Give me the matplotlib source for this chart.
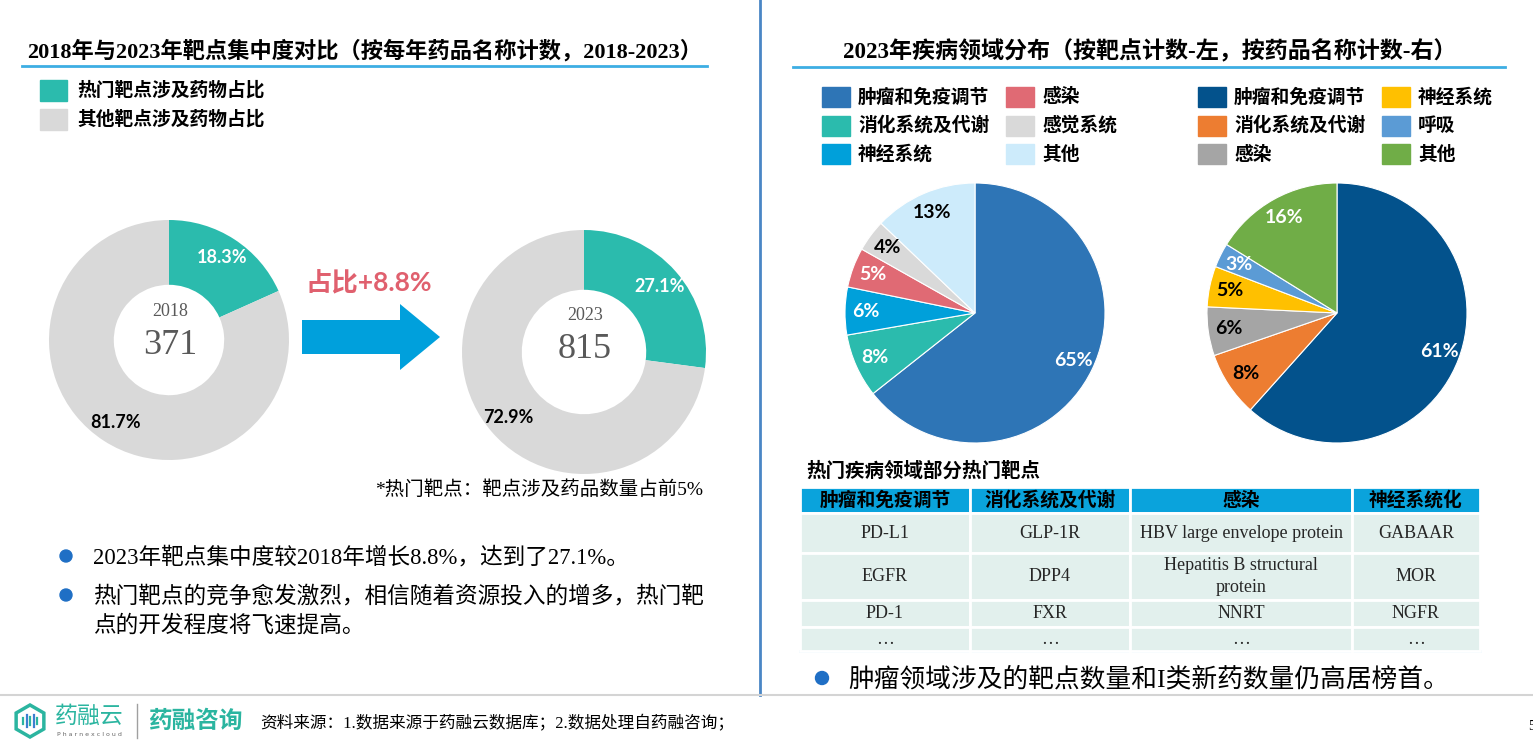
import matplotlib
matplotlib.use('Agg')
import matplotlib.pyplot as plt
from matplotlib.patches import Rectangle, FancyArrow, RegularPolygon, Circle

W, H = 1533, 742

# ---- data ----
years = ['2018', '2023']
drug_totals = [371, 815]
hot_share = [18.3, 27.1]
other_share = [81.7, 72.9]
share_gain = '占比+8.8%'
share_labels = ['热门靶点涉及药物占比', '其他靶点涉及药物占比']

target_areas = ['肿瘤和免疫调节', '消化系统及代谢', '神经系统', '感染', '感觉系统', '其他']
target_pct = [65, 8, 6, 5, 4, 13]
drug_areas = ['肿瘤和免疫调节', '消化系统及代谢', '感染', '神经系统', '呼吸', '其他']
drug_pct = [61, 8, 6, 5, 3, 16]

table_header = ['肿瘤和免疫调节', '消化系统及代谢', '感染', '神经系统化']
table_rows = [
    ['PD-L1', 'GLP-1R', 'HBV large envelope protein', 'GABAAR'],
    ['EGFR', 'DPP4', 'Hepatitis B structural\nprotein', 'MOR'],
    ['PD-1', 'FXR', 'NNRT', 'NGFR'],
    ['…', '…', '…', '…'],
]

left_notes = ['2023年靶点集中度较2018年增长8.8%，达到了27.1%。',
              '热门靶点的竞争愈发激烈，相信随着资源投入的增多，热门靶\n点的开发程度将飞速提高。']
right_note = '肿瘤领域涉及的靶点数量和I类新药数量仍高居榜首。'

# ---- style ----
TEAL = '#2BBBAD'
GREY = '#D9D9D9'
target_colors = ['#2E75B6', '#2BBBAD', '#00A0DA', '#E06A74', '#D9D9D9', '#CDEBFB']
target_txt = ['white', 'white', 'white', 'white', 'black', 'black']
drug_colors = ['#03528C', '#ED7D31', '#A5A5A5', '#FFC000', '#5B9BD5', '#70AD47']
drug_txt = ['white', 'black', 'black', 'black', 'white', 'white']

SERIF = ['Liberation Serif', 'Noto Sans CJK SC']
SANS = ['Noto Sans CJK SC', 'DejaVu Sans']
NUM = ['Lato', 'DejaVu Sans']

fig = plt.figure(figsize=(W / 100, H / 100), dpi=100, facecolor='white')


def px_axes(x0, y0, w, h):
    return fig.add_axes([x0 / W, 1 - (y0 + h) / H, w / W, h / H])


base = px_axes(0, 0, W, H)
base.set_xlim(0, W)
base.set_ylim(H, 0)
base.axis('off')

# frame lines
base.plot([760, 760], [0, 695], color='#4A86C5', lw=2)
base.plot([0, W], [695, 695], color='#D4D4D4', lw=1.5)
base.plot([22, 707], [66, 66], color='#3DAEE3', lw=2)
base.plot([793, 1505], [67, 67], color='#3DAEE3', lw=2)

# titles
base.text(365, 51, '2018年与2023年靶点集中度对比（按每年药品名称计数，2018-2023）',
          ha='center', va='center', fontsize=16, fontweight='bold', family=SERIF)
base.text(1150, 52, '2023年疾病领域分布（按靶点计数-左，按药品名称计数-右）',
          ha='center', va='center', fontsize=16.6, fontweight='bold', family=SERIF)

# left legend
for i, (lab, col) in enumerate(zip(share_labels, [TEAL, GREY])):
    y = 90 + i * 29
    base.add_patch(Rectangle((40, y - 10), 27, 21, color=col))
    base.text(77, y, lab, va='center', fontsize=13.5, fontweight='bold', family=SANS)

# donuts
donut_boxes = [(49, 220, 240, 240), (462, 230, 244, 244)]
donut_widths = [0.54, 0.49]
center_year_y = [311, 315]
center_total_y = [346, 350]
for k in range(2):
    ax = px_axes(*donut_boxes[k])
    w, t, at = ax.pie([hot_share[k], other_share[k]], colors=[TEAL, GREY],
                      startangle=90, counterclock=False,
                      wedgeprops=dict(width=donut_widths[k], edgecolor='none'),
                      autopct=lambda p: f'{p:.1f}%', pctdistance=0.82)
    for a, c in zip(at, ['white', 'black']):
        a.set_color(c)
        a.set_fontsize(13)
        a.set_fontweight('bold')
        a.set_family(NUM)
    ax.set_xlim(-1, 1)
    ax.set_ylim(-1, 1)
    ax.axis('off')
    bx, by, bw, bh = donut_boxes[k]
    cx = bx + bw / 2
    base.text(cx + 1, center_year_y[k], years[k], ha='center', va='center',
              fontsize=13, color='#595959', family=SERIF)
    base.text(cx + 1, center_total_y[k], str(drug_totals[k]), ha='center', va='center',
              fontsize=26, color='#595959', family=SERIF)

# arrow + gain text
base.add_patch(FancyArrow(302, 337, 138, 0, width=34, head_width=66, head_length=40,
                          length_includes_head=True, color='#00A0DC', lw=0))
base.text(369, 283, share_gain, ha='center', va='center', fontsize=19,
          fontweight='bold', color='#E0606E', family=['Lato', 'Noto Sans CJK SC'])

base.text(703, 490, '*热门靶点：靶点涉及药品数量占前5%', ha='right', va='center',
          fontsize=14, family=SERIF)

# left bullets
for y, txt in zip([556, 595], left_notes):
    base.add_patch(Circle((66, y), 6, color='#1F6FC5'))
    base.text(93, y - 9, txt, ha='left', va='top', fontsize=16.3, family=SERIF,
              linespacing=1.45)

# right legends
def legend_block(x0, cats, colors):
    for i, (lab, col) in enumerate(zip(cats, colors)):
        col_i, row_i = divmod(i, 3)
        x = x0 + col_i * 184
        y = 97 + row_i * 28.5
        base.add_patch(Rectangle((x, y - 10), 28, 20, color=col))
        base.text(x + 36, y, lab, va='center', fontsize=13.5, fontweight='bold', family=SANS)


legend_block(822, target_areas, target_colors)
legend_block(1198, drug_areas, drug_colors)

# pies
for box, vals, cols, tcols in [((845, 183, 260, 260), target_pct, target_colors, target_txt),
                               ((1207, 183, 260, 260), drug_pct, drug_colors, drug_txt)]:
    ax = px_axes(*box)
    tot = sum(vals)
    w, t, at = ax.pie(vals, colors=cols, startangle=90, counterclock=False,
                      wedgeprops=dict(edgecolor='white', linewidth=0.8),
                      autopct=lambda p, tot=tot: f'{p * tot / 100:.0f}%', pctdistance=0.84)
    for a, c in zip(at, tcols):
        a.set_color(c)
        a.set_fontsize(14)
        a.set_fontweight('bold')
        a.set_family(NUM)
    ax.set_xlim(-1, 1)
    ax.set_ylim(-1, 1)
    ax.axis('off')

# table
base.text(806, 471, '热门疾病领域部分热门靶点', va='center', fontsize=14,
          fontweight='bold', family=SANS)
tax = px_axes(800, 487, 680, 164)
tax.axis('off')
tbl = tax.table(cellText=table_rows, colLabels=table_header, bbox=[0, 0, 1, 1],
                cellLoc='center')
tbl.auto_set_font_size(False)
col_w = [170, 160, 222, 128]
row_h = [26, 40, 47, 27, 24]
for (r, c), cell in tbl.get_celld().items():
    cell.set_width(col_w[c])
    cell.set_height(row_h[r])
    cell.set_edgecolor('white')
    cell.set_linewidth(2)
    if r == 0:
        cell.set_facecolor('#0AA3DC')
        cell.get_text().set_fontweight('bold')
        cell.get_text().set_family(SANS)
        cell.get_text().set_fontsize(13.5)
    else:
        cell.set_facecolor('#E2F0ED')
        cell.get_text().set_family(SERIF)
        cell.get_text().set_fontsize(13)
        cell.get_text().set_color('#262626')
        cell.get_text().set_linespacing(1.45)
base.plot([800, 1480], [651, 651], color='#BDE3F5', lw=2)

base.add_patch(Circle((822, 678), 6.5, color='#1F6FC5'))
base.text(848, 679, right_note, va='center', fontsize=18.5, family=SERIF)

# footer
base.add_patch(RegularPolygon((30, 721), 6, radius=16, fill=False, edgecolor='#2BB5A0', lw=2.5))
for i, hgt in enumerate([6, 12, 8, 12, 6]):
    base.plot([23 + i * 3.5, 23 + i * 3.5], [721 - hgt / 2, 721 + hgt / 2],
              color='#2BB5A0' if i % 2 == 0 else '#3D7FD0', lw=1.6)
base.text(55, 716, '药融云', va='center', fontsize=16.5, color='#2BB5A0', family=SANS)
base.text(57, 734, 'P h a r n e x c l o u d', va='center', fontsize=4.5, color='#666666',
          family=['DejaVu Sans'])
base.plot([137, 137], [704, 738], color='#A0A0A0', lw=1)
base.text(148, 721, '药融咨询', va='center', fontsize=17, fontweight='bold',
          color='#2BB5A0', family=SANS)
base.text(260, 724, '资料来源：1.数据来源于药融云数据库；2.数据处理自药融咨询；', va='center',
          fontsize=12, family=SERIF)
base.text(1528, 726, '5', va='center', fontsize=10, family=SERIF)

fig.savefig('out.png', dpi=100, facecolor='white')
